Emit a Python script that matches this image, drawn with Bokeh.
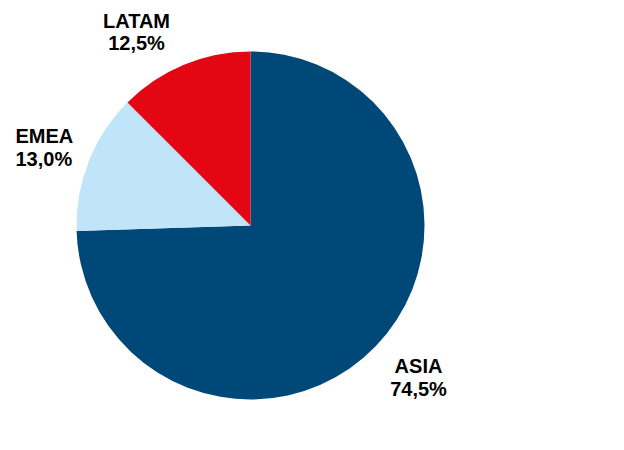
import math
from bokeh.plotting import figure
from bokeh.models import Range1d
from bokeh.core.properties import value
from bokeh.embed import file_html
from bokeh.resources import INLINE

regions = ["ASIA", "EMEA", "LATAM"]
shares = [74.5, 13.0, 12.5]
colors = ["#004878", "#C0E4F9", "#E30613"]
pct_labels = ["74,5%", "13,0%", "12,5%"]

W, H = 608, 434
p = figure(width=W, height=H, output_backend="svg", toolbar_location=None,
           x_range=Range1d(0, W), y_range=Range1d(0, H), min_border=0,
           match_aspect=False)
p.axis.visible = False
p.grid.visible = False
p.outline_line_color = None
p.background_fill_color = "white"
p.border_fill_color = "white"

def py(y):  # screenshot y -> data y
    return H - y

cx, cy, r = 250, py(225), 174

total = sum(shares)
ang = math.pi / 2
starts, ends = [], []
for s in shares:
    a = 2 * math.pi * s / total
    # clockwise from the top
    ends.append(ang)
    starts.append(ang - a)
    ang -= a

p.wedge(x=[cx] * 3, y=[cy] * 3, radius=r, start_angle=starts, end_angle=ends,
        direction="anticlock", fill_color=colors, line_color=None)

lab_x = [418, 15, 136]
lab_y1 = [365.5, 135.5, 20.3]
lab_align = ["center", "left", "center"]
for i in range(3):
    for txt, yy in ((regions[i], lab_y1[i]), (pct_labels[i], lab_y1[i] + 22.5)):
        p.text(x=[lab_x[i]], y=[py(yy)], text=[txt], text_align=lab_align[i],
               text_baseline="alphabetic", text_font=value("Liberation Sans"),
               text_font_size="20px", text_font_style="bold", text_color="black")

open("out.html", "w").write(file_html(p, INLINE))
